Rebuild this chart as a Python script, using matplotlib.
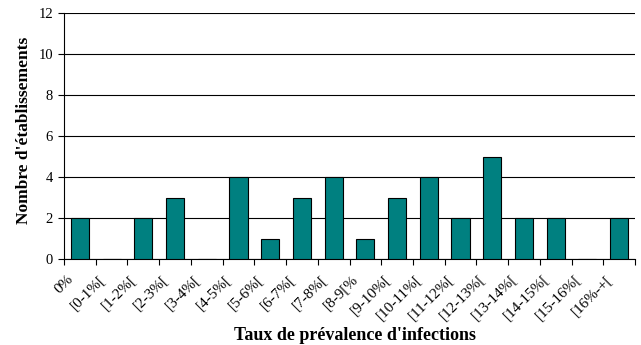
import matplotlib
matplotlib.use("Agg")
import matplotlib.pyplot as plt

categories = ["0%", "[0-1%[", "[1-2%[", "[2-3%[", "[3-4%[", "[4-5%[", "[5-6%[",
              "[6-7%[", "[7-8%[", "[8-9[%", "[9-10%[", "[10-11%[", "[11-12%[",
              "[12-13%[", "[13-14%[", "[14-15%[", "[15-16%[", "[16%-+["]
counts = [2, 0, 2, 3, 0, 4, 1, 3, 4, 1, 3, 4, 2, 5, 2, 2, 0, 2]

plt.rcParams["font.family"] = ["Liberation Serif", "DejaVu Serif"]

fig = plt.figure(figsize=(6.41, 3.45), dpi=100)
ax = fig.add_axes([64 / 641, 1 - 259 / 345, 571 / 641, 246 / 345])

x = list(range(len(categories)))
ax.bar(x, counts, width=0.57, color="#008080", edgecolor="black", linewidth=0.8, zorder=3)

ax.set_xlim(-0.5, len(categories) - 0.5)
ax.set_ylim(0, 12)
ax.set_yticks(range(0, 13, 2))
ax.yaxis.grid(True, color="black", linewidth=0.8, zorder=0)
ax.set_axisbelow(True)

# tick marks on the category boundaries, slanted category names below
ax.set_xticks([i - 0.5 for i in range(len(categories) + 1)])
ax.set_xticklabels([])
ax.tick_params(axis="x", length=4, width=0.8, direction="out")
for i, name in zip(x, categories):
    ax.annotate(name, xy=(i, 0), xycoords=("data", "axes fraction"),
                xytext=(-9, -18), textcoords="offset pixels",
                rotation=45, ha="right", va="center", rotation_mode="anchor",
                fontsize=11)
ax.tick_params(axis="y", length=4, width=0.8, direction="out", labelsize=10.5, pad=4)

for side in ("top", "right"):
    ax.spines[side].set_visible(False)
for side in ("left", "bottom"):
    ax.spines[side].set_linewidth(0.8)

ax.set_ylabel("Nombre d'établissements", fontsize=12.5, fontweight="bold")
ax.yaxis.set_label_coords(-0.056, 0.524)
ax.set_xlabel("Taux de prévalence d'infections", fontsize=13, fontweight="bold")
ax.xaxis.set_label_coords(0.509, -0.275)

fig.savefig("out.png", dpi=100)
